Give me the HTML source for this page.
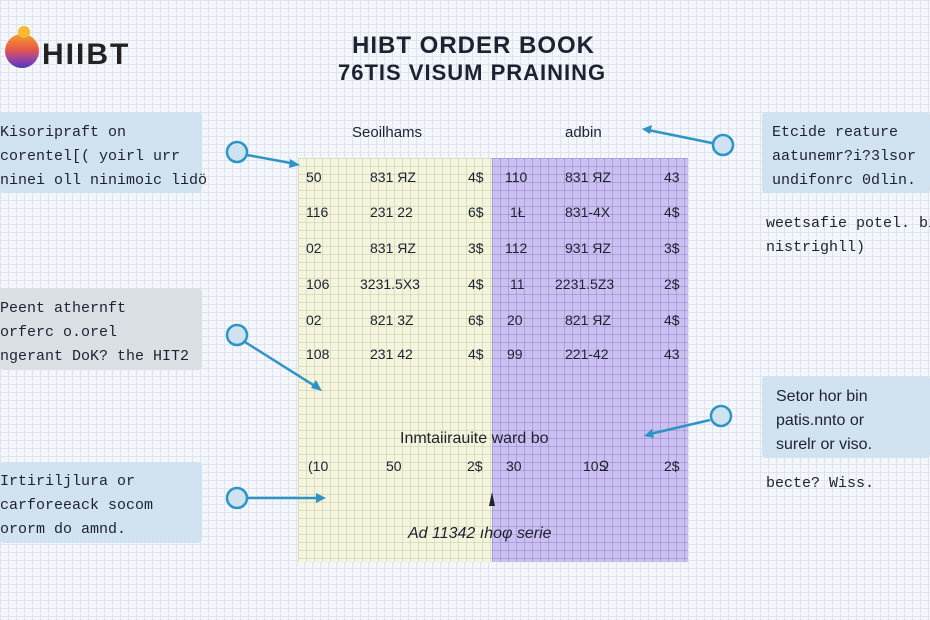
<!DOCTYPE html>
<html><head><meta charset="utf-8"><style>
*{margin:0;padding:0;box-sizing:border-box}
body{width:930px;height:620px;overflow:hidden;position:relative;font-family:"Liberation Sans",sans-serif;color:#1d2230;
background-color:#f3f6fa;
background-image:linear-gradient(#dde4ee 1px,transparent 1px),linear-gradient(90deg,#dde4ee 1px,transparent 1px);
background-size:8px 8px}
.a{position:absolute;white-space:nowrap}
.box{position:absolute;background:#cfe0ef;opacity:.95;border-radius:4px}
.t{position:absolute;font-family:"Liberation Mono",monospace;font-size:15px;line-height:24px;white-space:nowrap}
.yel{position:absolute;left:298px;top:158px;width:194px;height:404px;background-color:#f4f5dc;
background-image:linear-gradient(rgba(150,160,120,.25) 1px,transparent 1px),linear-gradient(90deg,rgba(150,160,120,.25) 1px,transparent 1px);background-size:8px 8px}
.pur{position:absolute;left:492px;top:158px;width:196px;height:404px;background-color:#cbc0f0;
background-image:linear-gradient(rgba(110,90,180,.3) 1px,transparent 1px),linear-gradient(90deg,rgba(110,90,180,.3) 1px,transparent 1px);background-size:8px 8px}
.r{position:absolute;font-size:14px;font-family:"Liberation Sans",sans-serif}
</style></head><body>
<div class="a" style="left:5px;top:34px;width:34px;height:34px;border-radius:50%;background:linear-gradient(#f4a02c,#e8584a 45%,#8a3fb0 80%,#4a3fb0)"></div>
<div class="a" style="left:18px;top:26px;width:12px;height:12px;border-radius:50%;background:#f6b930"></div>
<div class="a" style="left:42px;top:38px;font-size:30px;font-weight:bold;letter-spacing:2px;color:#222">HIIBT</div>
<div class="a" style="left:352px;top:32px;font-size:24px;font-weight:bold;letter-spacing:1px">HIBT ORDER BOOK</div>
<div class="a" style="left:338px;top:60px;font-size:22px;font-weight:bold;letter-spacing:1px">76TIS VISUM PRAINING</div>

<div class="box" style="left:0;top:112px;width:202px;height:81px"></div>
<div class="t" style="left:0;top:121px">Kisoripraft on<br>corentel[( yoirl urr<br>ninei oll ninimoic lidö</div>
<div class="box" style="left:0;top:288px;width:202px;height:82px;background:#d9dee4"></div>
<div class="t" style="left:0;top:297px">Peent athernft<br>orferc o.orel<br>ngerant DoK? the HIT2</div>
<div class="box" style="left:0;top:462px;width:202px;height:81px"></div>
<div class="t" style="left:0;top:470px">Irtiriljlura or<br>carforeeack  socom<br>ororm do amnd.</div>

<div class="box" style="left:762px;top:112px;width:168px;height:81px"></div>
<div class="t" style="left:772px;top:121px">Etcide reature<br>aatunemr?i?3lsor<br>undifonrc 0dlin.</div>
<div class="t" style="left:766px;top:212px">weetsafie potel. bis<br>nistrighll)</div>
<div class="box" style="left:762px;top:376px;width:168px;height:82px"></div>
<div class="t" style="left:776px;top:385px;font-family:'Liberation Sans',sans-serif;font-size:16px">Setor hor bin<br>patis.nnto or<br>surelr or viso.</div>
<div class="t" style="left:766px;top:472px">becte? Wiss.</div>

<div class="yel"></div><div class="pur"></div>
<div class="a" style="left:352px;top:124px;font-size:15px">Seoilhams</div>
<div class="a" style="left:565px;top:124px;font-size:15px">adbin</div>
<div class="r" style="left:306px;top:169px">50</div><div class="r" style="left:370px;top:169px">831 ЯZ</div><div class="r" style="left:468px;top:169px">4$</div><div class="r" style="left:505px;top:169px">110</div><div class="r" style="left:565px;top:169px">831 ЯZ</div><div class="r" style="left:664px;top:169px">43</div>
<div class="r" style="left:306px;top:204px">116</div><div class="r" style="left:370px;top:204px">231 22</div><div class="r" style="left:468px;top:204px">6$</div><div class="r" style="left:510px;top:204px">1Ł</div><div class="r" style="left:565px;top:204px">831-4X</div><div class="r" style="left:664px;top:204px">4$</div>
<div class="r" style="left:306px;top:240px">02</div><div class="r" style="left:370px;top:240px">831 ЯZ</div><div class="r" style="left:468px;top:240px">3$</div><div class="r" style="left:505px;top:240px">112</div><div class="r" style="left:565px;top:240px">931 ЯZ</div><div class="r" style="left:664px;top:240px">3$</div>
<div class="r" style="left:306px;top:276px">106</div><div class="r" style="left:360px;top:276px">3231.5X3</div><div class="r" style="left:468px;top:276px">4$</div><div class="r" style="left:510px;top:276px">11</div><div class="r" style="left:555px;top:276px">2231.5Z3</div><div class="r" style="left:664px;top:276px">2$</div>
<div class="r" style="left:306px;top:312px">02</div><div class="r" style="left:370px;top:312px">821 3Z</div><div class="r" style="left:468px;top:312px">6$</div><div class="r" style="left:507px;top:312px">20</div><div class="r" style="left:565px;top:312px">821 ЯZ</div><div class="r" style="left:664px;top:312px">4$</div>
<div class="r" style="left:306px;top:346px">108</div><div class="r" style="left:370px;top:346px">231 42</div><div class="r" style="left:468px;top:346px">4$</div><div class="r" style="left:507px;top:346px">99</div><div class="r" style="left:565px;top:346px">221-42</div><div class="r" style="left:664px;top:346px">43</div>
<div class="a" style="left:400px;top:430px;font-size:16px">Inmtaiirauite ward bo</div>
<div class="r" style="left:308px;top:458px">(10</div><div class="r" style="left:386px;top:458px">50</div><div class="r" style="left:467px;top:458px">2$</div><div class="r" style="left:506px;top:458px">30</div><div class="r" style="left:583px;top:458px">10Ջ</div><div class="r" style="left:664px;top:458px">2$</div>
<div class="a" style="left:408px;top:525px;font-size:16px;font-style:italic">Ad 11342 ıhoφ serie</div>

<svg class="a" style="left:0;top:0" width="930" height="620">
<g stroke="#2e94c4" stroke-width="2.5" fill="#cfe2f0">
<line x1="247" y1="155" x2="296" y2="164"/><line x1="245" y1="342" x2="318" y2="388"/><line x1="248" y1="498" x2="322" y2="498"/>
<line x1="712" y1="143" x2="648" y2="130"/><line x1="710" y1="420" x2="650" y2="434"/>
<circle cx="237" cy="152" r="10"/><circle cx="237" cy="335" r="10"/><circle cx="237" cy="498" r="10"/>
<circle cx="723" cy="145" r="10"/><circle cx="721" cy="416" r="10"/>
</g>
<g fill="#2e94c4"><polygon points="300,165 290,159 289,168"/><polygon points="322,391 311,388 316,380"/><polygon points="326,498 316,493 316,503"/>
<polygon points="642,129 652,125 650,134"/><polygon points="644,436 652,429 654,438"/></g>
<polygon points="492,492 489,506 495,506" fill="#1d2230"/>
</svg>
</body></html>
